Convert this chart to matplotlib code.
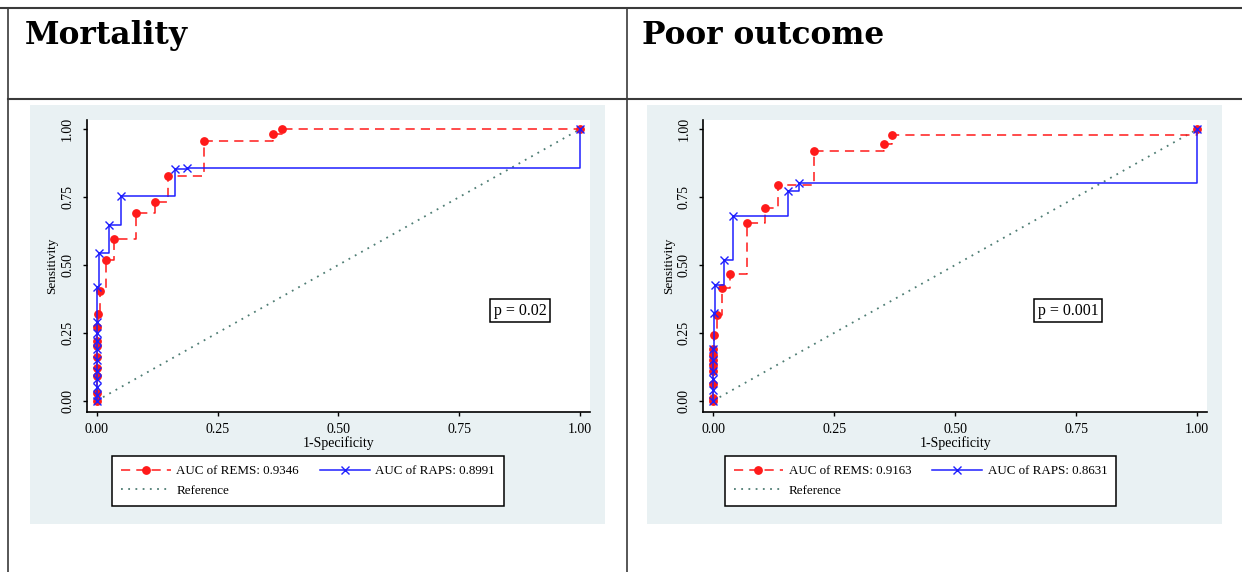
import matplotlib
matplotlib.use('Agg')
import matplotlib.pyplot as plt
from matplotlib.patches import Rectangle

W, H = 1242, 572

titles = ['Mortality', 'Poor outcome']

# Mortality
mort_rems_x = [0, 0, 0, 0, 0, 0, 0, 0, 0.002, 0.007, 0.019, 0.036, 0.081, 0.121, 0.147, 0.221, 0.365, 0.383, 1.0]
mort_rems_y = [0, 0.03, 0.09, 0.12, 0.16, 0.20, 0.22, 0.27, 0.32, 0.405, 0.518, 0.595, 0.690, 0.732, 0.829, 0.958, 0.983, 1.0, 1.0]
mort_raps_x = [0, 0, 0, 0, 0, 0, 0, 0, 0, 0, 0, 0.0055, 0.025, 0.050, 0.163, 0.186, 1.0]
mort_raps_y = [0, 0.02, 0.05, 0.08, 0.11, 0.15, 0.19, 0.22, 0.25, 0.29, 0.42, 0.545, 0.649, 0.754, 0.853, 0.859, 1.0]

# Poor outcome
poor_rems_x = [0, 0, 0, 0, 0, 0, 0, 0, 0.002, 0.008, 0.018, 0.034, 0.069, 0.107, 0.134, 0.208, 0.353, 0.370, 1.0]
poor_rems_y = [0, 0.01, 0.06, 0.11, 0.13, 0.15, 0.17, 0.19, 0.242, 0.316, 0.414, 0.467, 0.654, 0.709, 0.795, 0.920, 0.945, 0.979, 1.0]
poor_raps_x = [0, 0, 0, 0, 0, 0, 0.001, 0.004, 0.022, 0.040, 0.155, 0.177, 1.0]
poor_raps_y = [0, 0.04, 0.08, 0.11, 0.15, 0.19, 0.322, 0.426, 0.518, 0.682, 0.774, 0.801, 1.0]

auc_rems = ['0.9346', '0.9163']
auc_raps = ['0.8991', '0.8631']
p_values = ['0.02', '0.001']
p_pos = [(0.876, 0.332), (0.733, 0.332)]

ticks = [0, 0.25, 0.5, 0.75, 1.0]
tick_labels = ['0.00', '0.25', '0.50', '0.75', '1.00']

RED = '#ff1a1a'
BLUE = '#1f1fff'
REF = '#4f7d74'
PANEL = '#e9f1f3'
SERIF = ['Liberation Serif', 'DejaVu Serif']


def fbox(l, t, r, b):
    return [l / W, 1 - b / H, (r - l) / W, (b - t) / H]


fig = plt.figure(figsize=(W / 100, H / 100), dpi=100)

# table grid and grey panels, drawn in pixel units
bg = fig.add_axes([0, 0, 1, 1])
bg.set_xlim(0, W)
bg.set_ylim(H, 0)
bg.axis('off')
gc = '#3a3a3a'
bg.plot([0, W], [7.5, 7.5], color=gc, lw=1.5)
bg.plot([8, W], [98.5, 98.5], color=gc, lw=1.5)
bg.plot([8, 8], [7.5, H], color=gc, lw=1.2)
bg.plot([627, 627], [7.5, H], color=gc, lw=1.2)
bg.text(25, 44, titles[0], fontsize=22.5, fontweight='bold', family='DejaVu Serif', va='baseline')
bg.text(642, 44, titles[1], fontsize=22.5, fontweight='bold', family='DejaVu Serif', va='baseline')

panels = [(30, 105, 605, 524), (647, 105, 1222, 524)]
for l, t, r, b in panels:
    bg.add_patch(Rectangle((l, t), r - l, b - t, facecolor=PANEL, edgecolor='none'))

axboxes = [(86.7, 120, 590, 411.7), (703.3, 120, 1207.3, 411.7)]
legend_centers = [(308, 481), (920.5, 481)]
data = [(mort_rems_x, mort_rems_y, mort_raps_x, mort_raps_y),
        (poor_rems_x, poor_rems_y, poor_raps_x, poor_raps_y)]

for i in range(2):
    ax = fig.add_axes(fbox(*axboxes[i]))
    ax.set_facecolor('white')
    rx, ry, bx, by = data[i]
    h1, = ax.plot(rx, ry, drawstyle='steps-post', color=RED, lw=1.1, ls=(0, (6, 4)),
                  marker='o', ms=5.3, mfc=RED, mec=RED)
    h2, = ax.plot(bx, by, drawstyle='steps-post', color=BLUE, lw=1.1,
                  marker='x', ms=5.3, mew=1.0)
    h3, = ax.plot([0, 1], [0, 1], color=REF, lw=1.3, ls=(0, (1, 3)))
    h1.set_zorder(3)
    h2.set_zorder(4)

    ax.set_xlim(-0.0207, 1.0207)
    ax.set_ylim(-0.0405, 1.034)
    ax.spines['top'].set_visible(False)
    ax.spines['right'].set_visible(False)
    ax.spines['left'].set_linewidth(1.2)
    ax.spines['bottom'].set_linewidth(1.2)
    ax.set_xticks(ticks)
    ax.set_xticklabels(tick_labels, family=SERIF, fontsize=10)
    ax.set_yticks(ticks)
    ax.set_yticklabels(tick_labels, family=SERIF, fontsize=10, rotation=90, va='center')
    ax.tick_params(direction='out', length=3, width=1)
    ax.tick_params(axis='x', pad=5)
    ax.tick_params(axis='y', pad=6)
    ax.set_xlabel('1-Specificity', family=SERIF, fontsize=10, labelpad=0)
    ax.set_ylabel('Sensitivity', family=SERIF, fontsize=9.5, labelpad=2)

    px, py = p_pos[i]
    ax.text(px, py, 'p = ' + p_values[i], family=SERIF, fontsize=11.5, ha='center', va='center',
            bbox=dict(boxstyle='square,pad=0.22', facecolor='white', edgecolor='black', lw=1.1))

    cx, cy = legend_centers[i]
    leg = ax.legend([h1, h3, h2],
                    ['AUC of REMS: ' + auc_rems[i], 'Reference', 'AUC of RAPS: ' + auc_raps[i]],
                    ncol=2, loc='center', bbox_to_anchor=(cx / W, 1 - cy / H),
                    bbox_transform=fig.transFigure, prop={'family': SERIF, 'size': 9.4},
                    fancybox=False, edgecolor='black', framealpha=1, handlelength=3.8,
                    columnspacing=1.6, borderpad=0.65, labelspacing=0.6, handletextpad=0.45,
                    borderaxespad=0)
    leg.get_frame().set_linewidth(1.1)

fig.savefig('out.png', dpi=100)
